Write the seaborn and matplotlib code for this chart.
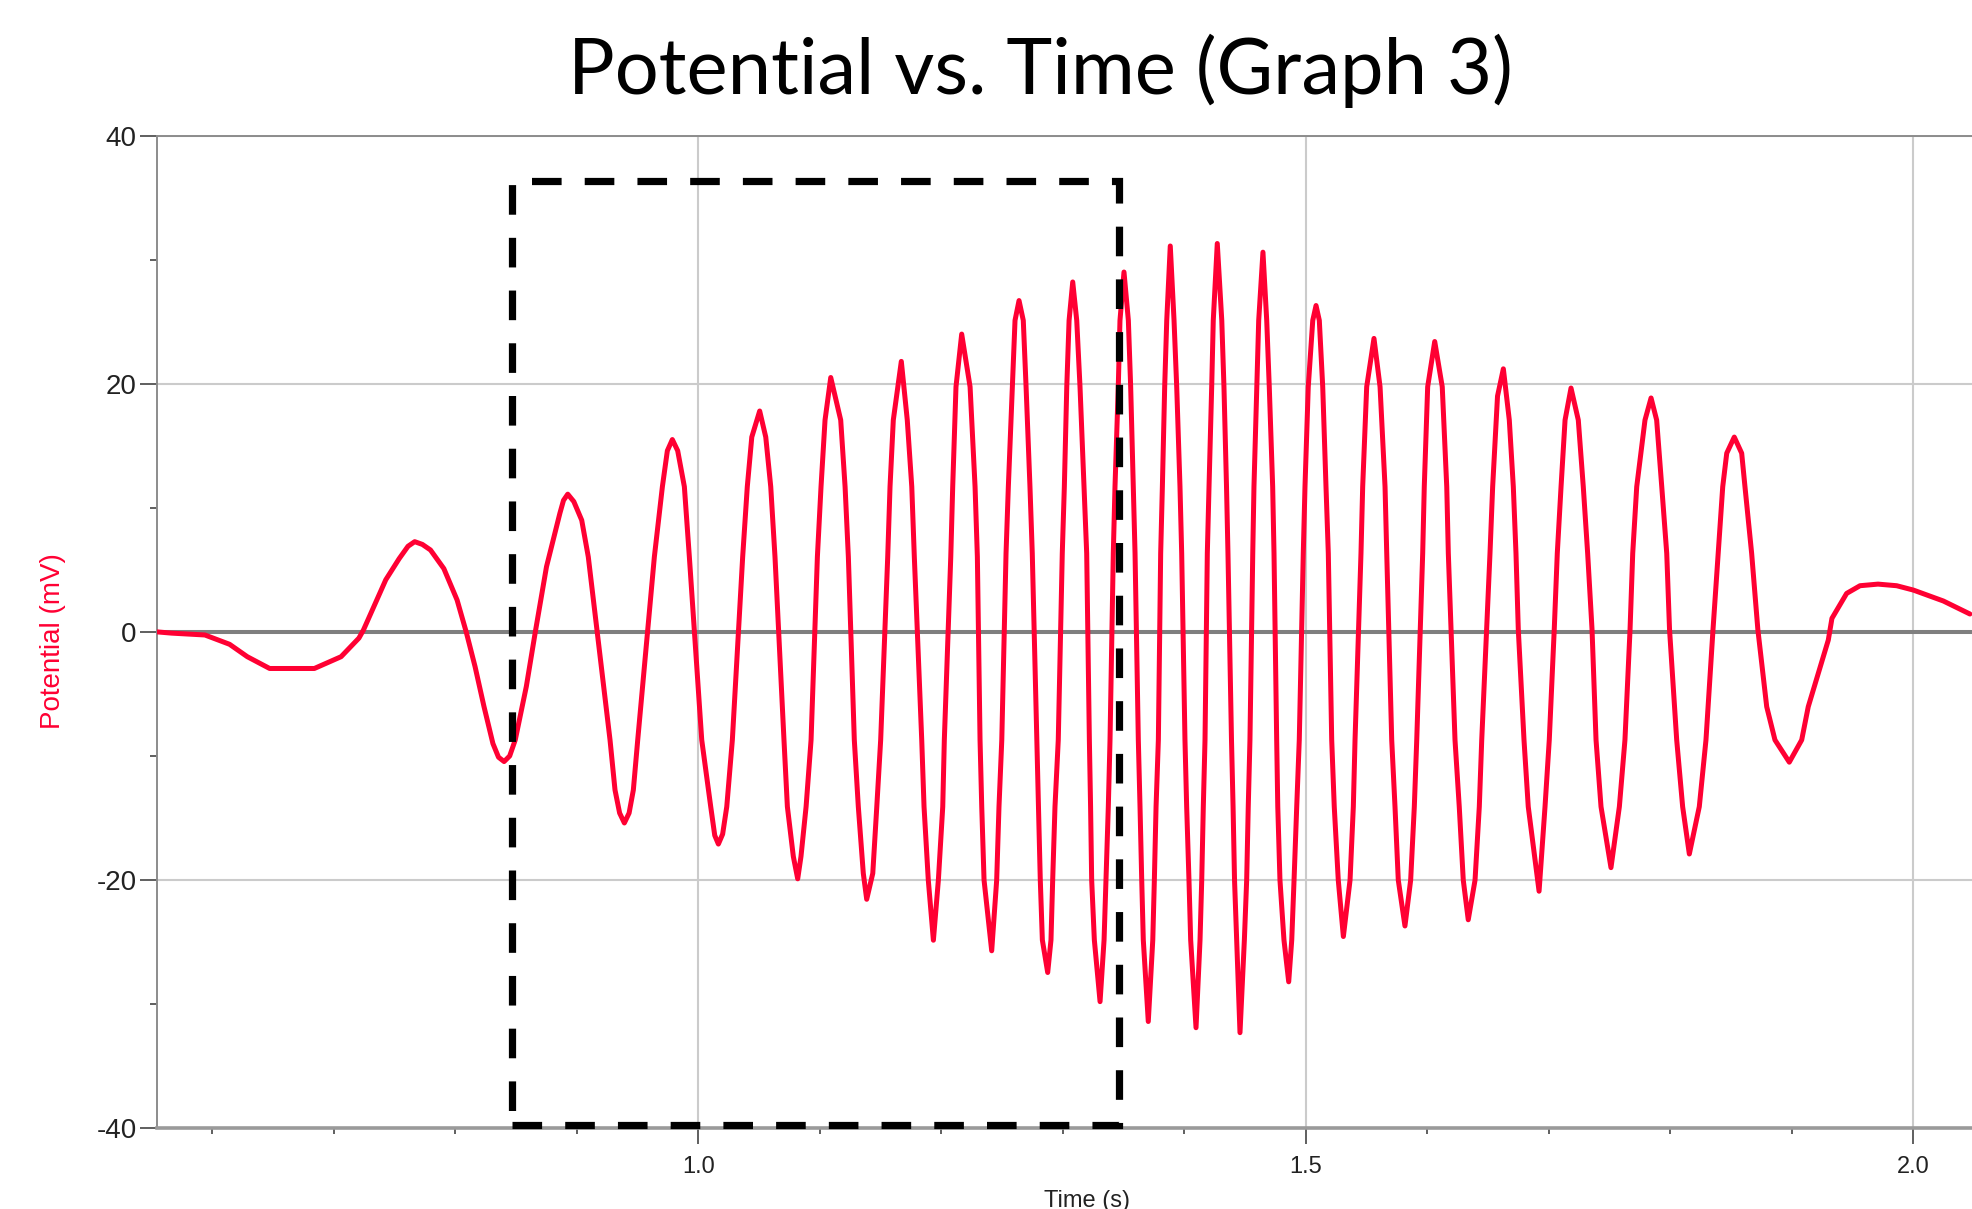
import matplotlib
matplotlib.use("Agg")
import matplotlib.pyplot as plt
import pandas as pd
import seaborn as sns
from matplotlib.patches import Rectangle
from matplotlib.ticker import MultipleLocator

# values (time in s, potential in mV)
time_s = [
    0.5545, 0.5663, 0.5938, 0.6141, 0.6287, 0.6471, 0.6839, 0.7059, 0.7206, 0.7243,
    0.7316, 0.7427, 0.7537, 0.7610, 0.7665, 0.7728, 0.7795, 0.7905, 0.8014, 0.8089,
    0.8162, 0.8235, 0.8309, 0.8355, 0.8401, 0.8447, 0.8493, 0.8584, 0.8658, 0.8750,
    0.8860, 0.8890, 0.8925, 0.8975, 0.9040, 0.9094,
    0.9273, 0.9314, 0.9352, 0.9391, 0.9430, 0.9465, 0.9501,
    0.9638, 0.9704, 0.9745, 0.9786, 0.9830, 0.9885, 0.9926,
    1.0028, 1.0102, 1.0135, 1.0165, 1.0200, 1.0234, 1.0280,
    1.0365, 1.0403, 1.0440, 1.0505, 1.0555, 1.0596, 1.0631,
    1.0705, 1.0733, 1.0782, 1.0818, 1.0845, 1.0887, 1.0928,
    1.0980, 1.1010, 1.1043, 1.1090, 1.1172, 1.1208, 1.1235,
    1.1284, 1.1317, 1.1358, 1.1386, 1.1436, 1.1469, 1.1501,
    1.1559, 1.1578, 1.1605, 1.1671, 1.1720, 1.1757, 1.1778,
    1.1839, 1.1858, 1.1893, 1.1935, 1.1976, 1.2012, 1.2025,
    1.2078, 1.2094, 1.2121, 1.2168, 1.2237, 1.2278, 1.2297,
    1.2319, 1.2333, 1.2352, 1.2415, 1.2456, 1.2475, 1.2498,
    1.2533, 1.2552, 1.2585, 1.2607, 1.2640, 1.2675, 1.2698, 1.2730, 1.2749,
    1.2786, 1.2800, 1.2815, 1.2832, 1.2876, 1.2903, 1.2917, 1.2936, 1.2963,
    1.2996, 1.3013, 1.3033, 1.3052, 1.3082, 1.3115, 1.3142, 1.3175, 1.3197,
    1.3219, 1.3229, 1.3238, 1.3260, 1.3307, 1.3340, 1.3356, 1.3375, 1.3389,
    1.3416, 1.3430, 1.3457, 1.3471, 1.3504, 1.3540, 1.3559, 1.3581, 1.3595,
    1.3622, 1.3636, 1.3650, 1.3663, 1.3704, 1.3741, 1.3754, 1.3768, 1.3787,
    1.3806, 1.3820, 1.3839, 1.3856, 1.3885, 1.3916, 1.3938, 1.3965, 1.3979,
    1.4006, 1.4020, 1.4039, 1.4053, 1.4097, 1.4130, 1.4144, 1.4157, 1.4171,
    1.4190, 1.4204, 1.4226, 1.4239, 1.4272, 1.4309, 1.4327, 1.4348, 1.4360,
    1.4389, 1.4402, 1.4414, 1.4432, 1.4459, 1.4495, 1.4514, 1.4527, 1.4541,
    1.4564, 1.4574, 1.4597, 1.4613, 1.4648, 1.4679, 1.4700, 1.4728, 1.4739,
    1.4761, 1.4770, 1.4788, 1.4821, 1.4860, 1.4885, 1.4904, 1.4926, 1.4947,
    1.4980, 1.4994, 1.5021, 1.5058, 1.5085, 1.5112, 1.5140, 1.5167, 1.5186,
    1.5214, 1.5235, 1.5268, 1.5310, 1.5365, 1.5392, 1.5406,
    1.5455, 1.5469, 1.5502, 1.5562, 1.5612, 1.5653, 1.5667,
    1.5708, 1.5735, 1.5762, 1.5817, 1.5864, 1.5894, 1.5914,
    1.5963, 1.5976, 1.6004, 1.6062, 1.6124, 1.6161, 1.6174,
    1.6229, 1.6264, 1.6297, 1.6338, 1.6394, 1.6429, 1.6449,
    1.6517, 1.6539, 1.6579, 1.6627, 1.6676, 1.6709, 1.6731, 1.6750,
    1.6797, 1.6832, 1.6921, 1.6970, 1.7005, 1.7046,
    1.7071, 1.7102, 1.7135, 1.7184, 1.7244, 1.7285, 1.7321, 1.7357,
    1.7390, 1.7431, 1.7513, 1.7582, 1.7628, 1.7670,
    1.7692, 1.7725, 1.7793, 1.7843, 1.7889, 1.7931, 1.7972, 1.7995,
    1.8054, 1.8103, 1.8158, 1.8240, 1.8295, 1.8353,
    1.8396, 1.8433, 1.8466, 1.8528, 1.8589, 1.8616, 1.8671, 1.8722,
    1.8795, 1.8863, 1.8981, 1.9083, 1.9137, 1.9302,
    1.9332, 1.9453, 1.9563, 1.9711, 1.9865, 2.0002, 2.0249, 2.0468,
]
potential_mv = [
    0.0, -0.1, -0.25, -1.0, -2.0, -2.95, -2.95, -2.0, -0.5, 0.15,
    1.76, 4.2, 5.9, 6.9, 7.27, 7.05, 6.6, 5.1, 2.57, 0.0,
    -2.8, -6.0, -9.0, -10.1, -10.45, -10.0, -8.7, -4.4, 0.0, 5.25,
    9.55, 10.6, 11.1, 10.5, 9.0, 6.05,
    -8.71, -12.74, -14.6, -15.4, -14.6, -12.74, -8.71,
    6.05, 11.7, 14.6, 15.5, 14.6, 11.7, 6.05,
    -8.71, -14.09, -16.4, -17.1, -16.3, -14.09, -8.71,
    6.05, 11.7, 15.7, 17.8, 15.7, 11.7, 6.05,
    -8.71, -14.09, -18.1, -19.9, -18.1, -14.09, -8.71,
    6.05, 11.7, 17.07, 20.5, 17.07, 11.7, 6.05,
    -8.71, -14.09, -19.46, -21.55, -19.46, -14.09, -8.71,
    6.05, 11.7, 17.07, 21.8, 17.07, 11.7, 6.05,
    -8.71, -14.09, -20.0, -24.85, -20.0, -14.09, -8.71,
    6.05, 11.7, 19.75, 24.0, 19.75, 11.7, 6.05,
    -8.71, -14.09, -20.0, -25.7, -20.0, -14.09, -8.71,
    6.33, 11.7, 19.75, 25.1, 26.7, 25.1, 19.75, 11.7, 6.33,
    -8.71, -14.09, -20.0, -24.83, -27.45, -24.83, -20.0, -14.09, -8.71,
    6.33, 11.7, 19.75, 25.1, 28.2, 25.1, 19.75, 11.7, 6.33,
    -8.71, -14.09, -20.0, -24.83, -29.8, -24.83, -20.0, -14.09, -8.71,
    6.33, 11.7, 19.75, 25.1, 29.0, 25.1, 19.75, 11.7, 6.33,
    -8.71, -14.09, -20.0, -24.83, -31.4, -24.83, -20.0, -14.09, -8.71,
    6.33, 11.7, 19.75, 25.1, 31.1, 25.1, 19.75, 11.7, 6.33,
    -8.71, -14.09, -20.0, -24.83, -31.9, -24.83, -20.0, -14.09, -8.71,
    6.33, 11.7, 19.75, 25.1, 31.3, 25.1, 19.75, 11.7, 6.33,
    -8.71, -14.09, -20.0, -24.83, -32.3, -24.83, -20.0, -14.09, -8.71,
    6.33, 11.7, 19.75, 25.1, 30.6, 25.1, 19.75, 11.7, 6.33,
    -8.71, -14.09, -20.0, -24.83, -28.2, -24.83, -20.0, -14.09, -8.71,
    6.33, 11.7, 19.75, 25.1, 26.3, 25.1, 19.75, 11.7, 6.33,
    -8.71, -14.09, -20.0, -24.55, -20.0, -14.09, -8.71,
    6.33, 11.7, 19.75, 23.65, 19.75, 11.7, 6.33,
    -8.71, -14.09, -20.0, -23.7, -20.0, -14.09, -8.71,
    6.33, 11.7, 19.75, 23.4, 19.75, 11.7, 6.33,
    -8.71, -14.09, -20.0, -23.2, -20.0, -14.09, -8.71,
    6.33, 11.7, 19.0, 21.2, 17.07, 11.7, 6.33, 0.2,
    -8.71, -14.09, -20.9, -14.09, -8.71, 0.2,
    6.33, 11.7, 17.07, 19.65, 17.07, 11.7, 6.33, 0.2,
    -8.71, -14.09, -19.0, -14.09, -8.71, 0.2,
    6.33, 11.7, 17.07, 18.85, 17.07, 11.7, 6.33, 0.2,
    -8.71, -14.09, -17.9, -14.09, -8.71, 0.2,
    6.33, 11.7, 14.4, 15.7, 14.4, 11.7, 6.33, 0.2,
    -6.03, -8.71, -10.5, -8.71, -6.03, -0.66,
    1.09, 3.1, 3.72, 3.85, 3.72, 3.37, 2.49, 1.44,
]

x_major = [1.0, 1.5, 2.0]
x_labels = ["1.0", "1.5", "2.0"]
y_major = [-40, -20, 0, 20, 40]
x_limits = (0.5545, 2.0485)
y_limits = (-40, 40)

# dashed highlight box (time range, potential range)
box_time = (0.8464, 1.3466)
box_mv = (-39.7, 36.3)

TRACE = "#ff0033"
GRID = "#cbcbcb"
AXIS_GREY = "#8c8c8c"

sns.set_style("white")
plt.rcParams["font.family"] = ["Liberation Sans", "DejaVu Sans"]
plt.rcParams["axes.unicode_minus"] = False

df = pd.DataFrame({"time": time_s, "potential": potential_mv})

fig = plt.figure(figsize=(19.72, 12.09), dpi=100)
ax = fig.add_axes([0.0797, 0.0668, 0.9203, 0.8211])

ax.axhline(0, color="#7f7f7f", lw=2.9, zorder=1)
sns.lineplot(data=df, x="time", y="potential", color=TRACE, lw=3.6,
             estimator=None, sort=False, ax=ax, zorder=3)
ax.lines[-1].set_solid_joinstyle("round")

ax.add_patch(Rectangle((box_time[0], box_mv[0]), box_time[1] - box_time[0],
                       box_mv[1] - box_mv[0], fill=False, ec="black", lw=5.2,
                       linestyle=(0, (4.1, 3.2)), zorder=5, clip_on=False))

ax.set_xlim(*x_limits)
ax.set_ylim(*y_limits)
ax.set_xticks(x_major)
ax.set_xticklabels(x_labels)
ax.set_yticks(y_major)
ax.xaxis.set_minor_locator(MultipleLocator(0.1))
ax.yaxis.set_minor_locator(MultipleLocator(10))
ax.grid(True, which="major", color=GRID, lw=1.5, zorder=0)
ax.set_axisbelow(True)

ax.tick_params(axis="y", which="major", length=12, width=1.2, color="#444444",
               pad=2.8, labelsize=20, labelcolor="#222222", left=True)
ax.tick_params(axis="y", which="minor", length=5, width=1.2, color="#444444", left=True)
ax.tick_params(axis="x", which="major", length=11.5, width=1.2, color="#444444",
               pad=8.5, labelsize=17, labelcolor="#222222", bottom=True)
ax.tick_params(axis="x", which="minor", length=4.5, width=1.2, color="#444444", bottom=True)

ax.spines["right"].set_visible(False)
for side in ["left", "top"]:
    ax.spines[side].set_color(AXIS_GREY)
    ax.spines[side].set_linewidth(1.4)
ax.spines["bottom"].set_color("#9a9a9a")
ax.spines["bottom"].set_linewidth(2.6)

ax.set_xlabel("")
ax.set_ylabel("")
fig.text(0.0271, 0.470, "Potential (mV)", rotation=90, ha="center", va="center",
         fontsize=20, color=TRACE)
fig.text(0.551, 0.0157, "Time (s)", ha="center", va="top", fontsize=17,
         color="#222222")
fig.text(0.5274, 0.922, "Potential vs. Time (Graph 3)", ha="center",
         va="baseline", fontsize=56, color="black", family=["Lato", "DejaVu Sans"])

fig.savefig("out.png", dpi=100)
